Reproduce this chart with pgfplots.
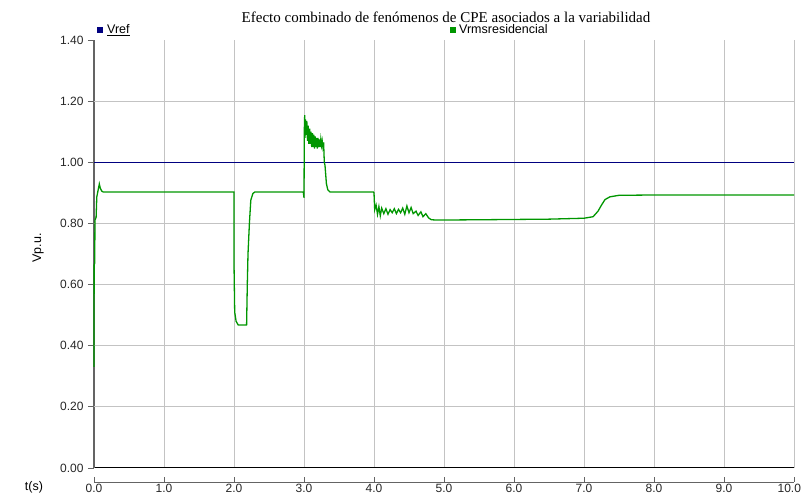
\documentclass[border=0pt]{standalone}
\usepackage{pgfplots}
\pgfplotsset{compat=1.18}
\usepackage{fontspec}
\setmainfont{Liberation Sans}
\newfontfamily\titlefont{Liberation Serif}
\definecolor{vref}{RGB}{0,0,128}
\definecolor{vrms}{RGB}{0,150,0}
\definecolor{gridc}{RGB}{195,195,195}
\definecolor{axc}{RGB}{100,100,100}
\begin{document}
\begin{tikzpicture}[x=1pt,y=1pt]
\useasboundingbox (0,0) rectangle (804,498);
\begin{axis}[
  at={(94pt,30pt)}, anchor=south west,
  scale only axis, width=700pt, height=428pt,
  xmin=0, xmax=10, ymin=0, ymax=1.4,
  axis x line=bottom, axis y line=left,
  x axis line style={-, black, line width=1pt},
  y axis line style={-, axc, line width=1.3pt},
  xtick={1,2,3,4,5,6,7,8,9,10}, xticklabels={},
  xmajorgrids, x tick style={draw=none},
  major grid style={gridc, line width=1pt},
  ytick={0,0.2,0.4,0.6,0.8,1.0,1.2,1.4},
  yticklabels={0.00,0.20,0.40,0.60,0.80,1.00,1.20,1.40},
  y tick style={axc, line width=0.9pt}, ytick align=outside, major tick length=6pt,
  yticklabel style={font=\fontsize{12}{14}\selectfont, text=black!85, xshift=-1pt},
  extra y ticks={0.2,0.4,0.6,0.8,1.0,1.2}, extra y tick labels={},
  extra y tick style={ymajorgrids=true, y tick style={draw=none}},
  clip=false,
]
\addplot[vref, line width=1.5pt] coordinates {(0,1.0) (10,1.0)};
\addplot[vrms, line width=1.3pt] coordinates {
(0,0.331) (0.002,0.664) (0.01,0.67) (0.014,0.811) (0.03,0.82) (0.04,0.887) (0.06,0.91) (0.076,0.929) (0.09,0.915) (0.11,0.906) (0.13,0.903)
(2.0,0.903) (2.0,0.67) (2.01,0.51) (2.03,0.48) (2.06,0.468) (2.18,0.468) (2.19,0.6) (2.2,0.7) (2.22,0.80) (2.24,0.876) (2.27,0.898) (2.3,0.903)
(2.99,0.903) (3.0,0.884) (3.005,1.11) (3.01,1.154) (3.015,1.08) (3.02,1.14) (3.03,1.09) (3.04,1.135) (3.05,1.07) (3.06,1.12) (3.07,1.06) (3.08,1.11) (3.09,1.06) (3.10,1.10) (3.11,1.05) (3.12,1.095) (3.13,1.05) (3.14,1.09) (3.15,1.045) (3.16,1.085) (3.17,1.05) (3.18,1.08) (3.19,1.045) (3.20,1.08) (3.21,1.05) (3.22,1.075) (3.23,1.05) (3.24,1.075) (3.25,1.055) (3.26,1.07) (3.27,1.05) (3.28,1.065) (3.29,1.00) (3.30,0.99) (3.32,0.93) (3.34,0.91) (3.37,0.903)
(3.99,0.903) (4.0,0.9) (4.01,0.845) (4.03,0.86) (4.05,0.83) (4.07,0.855) (4.09,0.825) (4.11,0.85) (4.14,0.832) (4.17,0.848) (4.2,0.83) (4.23,0.845) (4.26,0.835) (4.29,0.848) (4.32,0.832) (4.35,0.846) (4.38,0.835) (4.41,0.85) (4.44,0.83) (4.47,0.857) (4.5,0.835) (4.53,0.852) (4.56,0.832) (4.6,0.84) (4.63,0.826) (4.67,0.838) (4.7,0.822) (4.74,0.832) (4.78,0.818) (4.82,0.812) (4.9,0.811)
(5.5,0.812) (6.5,0.814) (7.0,0.817) (7.13,0.822) (7.2,0.84) (7.25,0.86) (7.3,0.878) (7.37,0.887) (7.5,0.892) (8,0.893) (10,0.893)
};
\end{axis}
\begin{axis}[
  at={(94pt,16pt)}, anchor=south west,
  scale only axis, width=700pt, height=2pt,
  xmin=0, xmax=10, ymin=0, ymax=1,
  axis x line=bottom, axis y line=none,
  x axis line style={-, axc, line width=0.9pt},
  xtick={0,1,2,3,4,5,6,7,8,9,10},
  xticklabels={0.0,1.0,2.0,3.0,4.0,5.0,6.0,7.0,8.0,9.0,\makebox[14pt][r]{10.0}},
  x tick style={axc, line width=0.9pt}, xtick align=inside, major tick length=5pt,
  xticklabel style={font=\fontsize{12}{14}\selectfont, text=black!85, yshift=1pt},
]
\addplot[draw=none] coordinates {(0,0) (10,0)};
\end{axis}
\node[font=\titlefont\fontsize{15}{17}\selectfont] at (446,481) {Efecto combinado de fenómenos de CPE asociados a la variabilidad};
\fill[vref] (97,465) rectangle (103,471);
\node[anchor=base west, font=\fontsize{12.5}{14}\selectfont, inner sep=0pt] at (107,464) {\underline{Vref}};
\fill[vrms] (450,465) rectangle (456,471);
\node[anchor=base west, font=\fontsize{12.5}{14}\selectfont, inner sep=0pt] at (459,464) {Vrmsresidencial};
\node[rotate=90, font=\fontsize{12.5}{14}\selectfont] at (38,250) {Vp.u.};
\node[font=\fontsize{12.5}{14}\selectfont] at (34,11) {t(s)};
\end{tikzpicture}
\end{document}
